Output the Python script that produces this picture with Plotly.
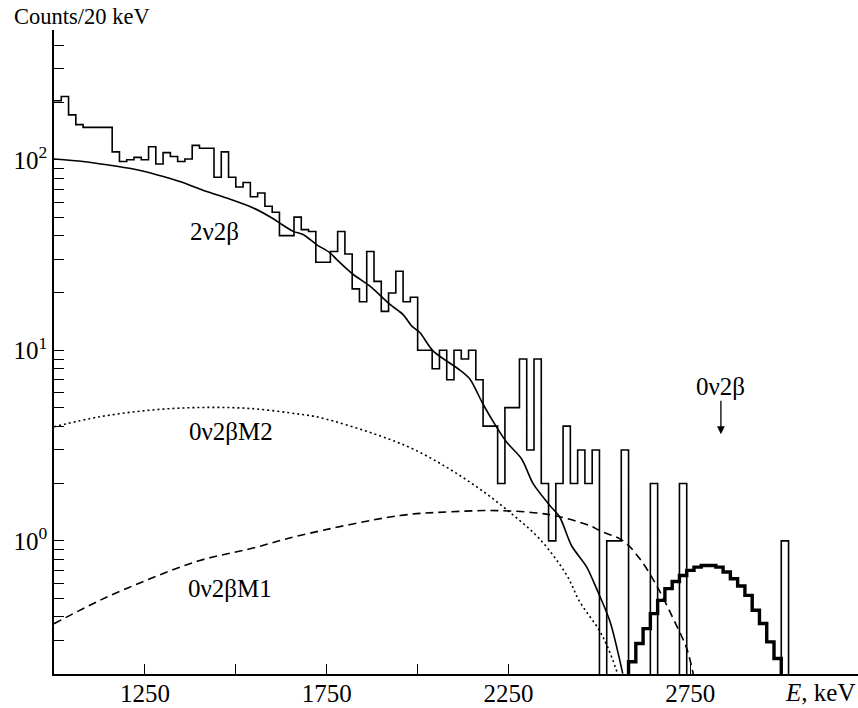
import numpy as np
import plotly.graph_objects as go

# ---------------- data ----------------
bin_width = 20          # keV
hist_start = 1000       # keV, left edge of first bin
counts = [204, 215, 172, 153, 148, 148, 148, 148, 110, 98,
          100, 103, 100, 117, 95, 109, 104, 98, 101, 119,
          115, 115, 81, 110, 81, 72, 76, 64, 67, 57,
          53, 40, 40, 50, 43, 42, 29, 29, 33, 42,
          32, 21, 18, 33, 23, 16, 20, 26, 18, 19,
          10, 10, 8, 10, 7, 10, 9, 10, 7, 4,
          4, 2, 5, 5, 9, 3, 9, 2, 1, 2,
          4, 2, 3, 2, 3, 0, 1, 1, 3, 0,
          0, 0, 2, 0, 0, 0, 2, 0, 0, 0,
          0, 0, 0, 0, 0, 0, 0, 0, 0, 0,
          1]

# 0v2b expected peak (bold histogram)
peak_start = 2580
peak_counts = [0.232, 0.289, 0.346, 0.415, 0.487, 0.561, 0.612, 0.658, 0.700, 0.728,
               0.742, 0.742, 0.728, 0.686, 0.632, 0.579, 0.517, 0.432, 0.368, 0.295,
               0.241]

# 2v2b fit curve (solid)
two_nu_E = [1000, 1080, 1145, 1218, 1282, 1346, 1420, 1475, 1548, 1603, 1621, 1658,
            1685, 1722, 1759, 1777, 1823, 1869, 1924, 1960, 1984, 2006, 2043, 2116,
            2144, 2180, 2212, 2245, 2286, 2318, 2364, 2391, 2423, 2465, 2492, 2529, 2564]
two_nu_v = [100.9, 98, 94.2, 89.4, 83.5, 76.9, 68.2, 63, 55.9, 49, 46.5, 42.1,
            40.5, 35.9, 32.5, 30, 25, 21.7, 17.4, 15.4, 13.4, 12.4, 9.9, 7.88,
            7.05, 5.21, 4.1, 3.29, 2.69, 1.99, 1.53, 1.33, 0.945, 0.728, 0.561, 0.377, 0.201]

# 0v2b M2 (dotted)
m2_E = [1000, 1126, 1264, 1401, 1539, 1676, 1731, 1896, 1988, 2080, 2171, 2254,
        2336, 2410, 2446, 2499, 2525, 2550]
m2_v = [3.97, 4.48, 4.85, 5.01, 4.95, 4.62, 4.44, 3.56, 3.03, 2.43, 1.87, 1.41,
        1.02, 0.66, 0.478, 0.34, 0.27, 0.2]

# 0v2b M1 (dashed)
m1_E = [1000, 1126, 1264, 1401, 1539, 1676, 1951, 2089, 2226, 2364, 2474, 2501,
        2565, 2611, 2657, 2703, 2740, 2758]
m1_v = [0.367, 0.487, 0.632, 0.789, 0.908, 1.066, 1.357, 1.42, 1.44, 1.37, 1.2, 1.13,
        1.0, 0.805, 0.583, 0.39, 0.272, 0.2]

x_ticks = [1250, 1750, 2250, 2750]
x_tick_labels = ["1250", "1750", "2250", "2750"]
x_minor_ticks = [1500, 2000, 2500, 3000]
y_ticks = [1, 10, 100]
y_tick_labels = ["10<sup>0</sup>", "10<sup>1</sup>", "10<sup>2</sup>"]
y_minor = [0.2, 0.3, 0.4, 0.5, 0.6, 0.7, 0.8, 0.9,
           2, 3, 4, 5, 6, 7, 8, 9,
           20, 30, 40, 50, 60, 70, 80, 90, 200, 300, 400]

# ---------------- figure ----------------
FONT = "Liberation Serif"
FLOOR = 1e-3  # drawing level for empty bins (below the visible range)

fig = go.Figure()

# measured spectrum (thin histogram)
n = len(counts)
edges = hist_start + bin_width * np.arange(n + 1)
vals = np.array(counts, dtype=float)
vals = np.where(vals > 0, vals, FLOOR)
hx = list(edges[:n]) + [edges[n], edges[n]]
hy = list(vals) + [vals[-1], FLOOR]
fig.add_trace(go.Scatter(x=hx, y=hy, mode="lines", line=dict(color="black", width=1.6, shape="hv"),
                         hoverinfo="skip", showlegend=False))

# 2v2b
fig.add_trace(go.Scatter(x=two_nu_E, y=two_nu_v, mode="lines",
                         line=dict(color="black", width=1.6, shape="spline", smoothing=0.8),
                         showlegend=False))
# M2 dotted
fig.add_trace(go.Scatter(x=m2_E, y=m2_v, mode="lines",
                         line=dict(color="black", width=1.6, shape="spline", dash="2px,3px"),
                         showlegend=False))
# M1 dashed
fig.add_trace(go.Scatter(x=m1_E, y=m1_v, mode="lines",
                         line=dict(color="black", width=1.6, shape="spline", dash="8px,5px"),
                         showlegend=False))

# 0v2b peak (bold histogram)
m = len(peak_counts)
pedges = peak_start + bin_width * np.arange(m + 1)
px_ = [pedges[0]] + list(pedges[:m]) + [pedges[m], pedges[m]]
py_ = [FLOOR] + list(peak_counts) + [peak_counts[-1], FLOOR]
fig.add_trace(go.Scatter(x=px_, y=py_, mode="lines", line=dict(color="black", width=3.4, shape="hv"),
                         showlegend=False))

txt = dict(family=FONT, size=25, color="black")
annotations = [
    dict(text="2\u03bd2\u03b2", x=1440, y=1.623, xref="x", yref="y", showarrow=False, font=txt),
    dict(text="0\u03bd2\u03b2M2", x=1487, y=0.576, xref="x", yref="y", showarrow=False, font=txt),
    dict(text="0\u03bd2\u03b2M1", x=1484, y=-0.251, xref="x", yref="y", showarrow=False, font=txt),
    dict(text="0\u03bd2\u03b2", x=2834, y=0.8115, xref="x", yref="y", showarrow=False, font=txt),
    dict(text="", x=2834, y=0.56, xref="x", yref="y", showarrow=True, ax=0, ay=-35,
         arrowhead=2, arrowsize=1.2, arrowwidth=1.3, arrowcolor="black"),
    dict(text="Counts/20 keV", x=-0.0526, y=1.0217, xref="paper", yref="paper",
         xanchor="left", yanchor="middle", showarrow=False,
         font=dict(family=FONT, size=22.5, color="black")),
    dict(text="<i>E</i>, keV", x=0.9527, y=-0.0295, xref="paper", yref="paper",
         xanchor="center", yanchor="middle", showarrow=False, font=txt),
]

fig.update_layout(
    template="none",
    width=858, height=708,
    margin=dict(l=54, r=0, t=30, b=34),
    paper_bgcolor="white", plot_bgcolor="white",
    annotations=annotations,
    showlegend=False,
    xaxis=dict(range=[1000, 3211], showline=True, linecolor="black", linewidth=1.5,
               automargin=False,
               ticks="inside", ticklen=10, tickwidth=1.2, tickcolor="black",
               tickvals=x_ticks, ticktext=x_tick_labels, showgrid=False, zeroline=False,
               tickfont=txt, ticklabelstandoff=-4,
               minor=dict(ticks="inside", ticklen=10, tickwidth=1.2, tickcolor="black",
                          tickvals=x_minor_ticks, showgrid=False)),
    yaxis=dict(type="log", range=[np.log10(0.2), np.log10(480)], showline=True,
               automargin=False,
               linecolor="black", linewidth=1.5, ticks="inside", ticklen=10, tickwidth=1.2,
               tickcolor="black", tickvals=y_ticks, ticktext=y_tick_labels,
               showgrid=False, zeroline=False, tickfont=txt,
               minor=dict(ticks="inside", ticklen=10, tickwidth=1.2, tickcolor="black",
                          tickvals=y_minor, showgrid=False)),
)

fig.write_html("out.html", config={"displayModeBar": False},
               post_script="document.body.style.margin='0';")
